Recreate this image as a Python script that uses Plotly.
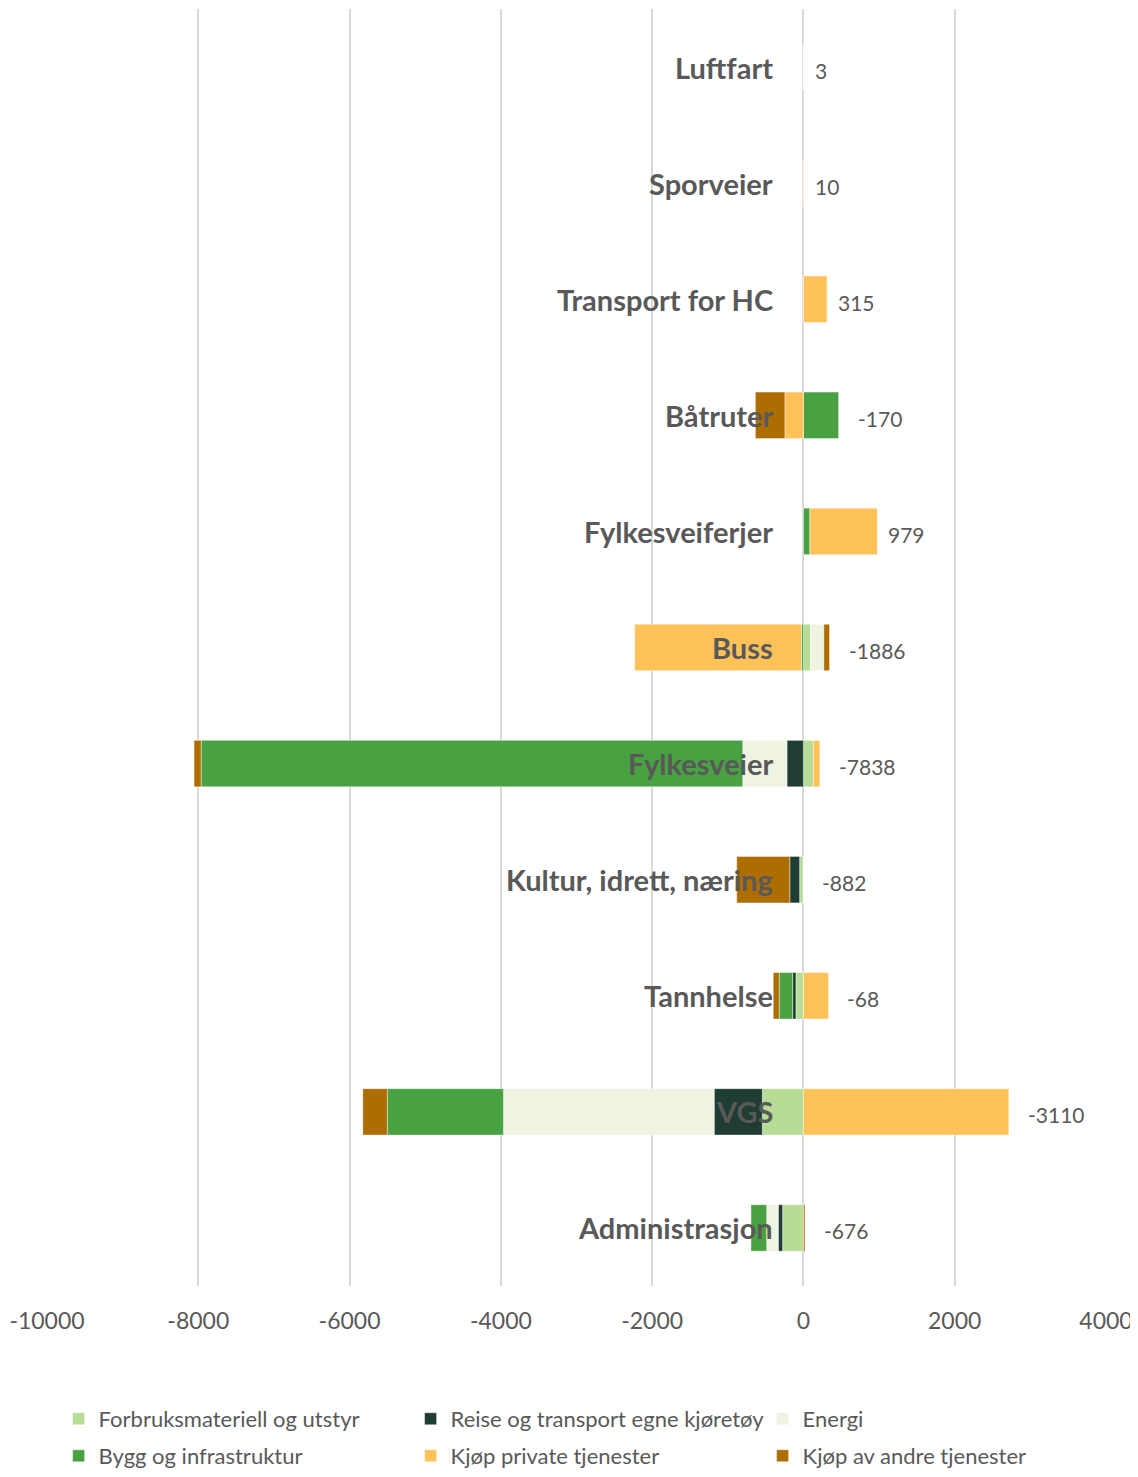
import plotly.graph_objects as go

categories = ["Administrasjon", "VGS", "Tannhelse", "Kultur, idrett, næring", "Fylkesveier",
              "Buss", "Fylkesveiferjer", "Båtruter", "Transport for HC", "Sporveier", "Luftfart"]

series_names = ["Forbruksmateriell og utstyr", "Reise og transport egne kjøretøy", "Energi",
                "Bygg og infrastruktur", "Kjøp private tjenester", "Kjøp av andre tjenester"]

forbruks = [-275, -543, -99, -50, 131, 95, 0, 0, 0, 0, 0]
reise = [-58, -637, -44, -130, -218, 0, 0, 0, 0, 0, 0]
energi = [-153, -2786, 0, 0, -584, 175, 0, 0, 0, 0, 0]
bygg = [-207, -1535, -177, 0, -7160, -25, 85, 465, 0, 0, 0]
kjop_private = [0, 2715, 331, 0, 87, -2206, 894, -245, 315, 10, 3]
kjop_andre = [20, -324, -79, -702, -94, 75, 0, -390, 0, 0, 0]

totals = [-676, -3110, -68, -882, -7838, -1886, 979, -170, 315, 10, 3]

colors = ["#B7DC95", "#1F3D33", "#EEF3E2", "#48A241", "#FFC259", "#AD6D00"]

x_ticks = [-10000, -8000, -6000, -4000, -2000, 0, 2000, 4000]

values = [forbruks, reise, energi, bygg, kjop_private, kjop_andre]

FONT = "Lato"
TEXT = "#595959"

W, H = 1130, 1461

fig = go.Figure()
legend_ids = ["legend", "legend2", "legend3", "legend4", "legend5", "legend6"]
for name, vals, col, lid in zip(series_names, values, colors, legend_ids):
    fig.add_trace(go.Bar(
        y=categories, x=vals, name=name, orientation="h",
        marker=dict(color=col, line=dict(color="rgba(255,255,255,0.7)", width=0.6)),
        legend=lid, showlegend=True, hoverinfo="x+name",
    ))

annotations = []
for cat, tot, *vals in zip(categories, totals, *values):
    pos = sum(v for v in vals if v > 0)
    annotations.append(dict(
        x=0, y=cat, xref="x", yref="y", text=f"<b>{cat}</b>", showarrow=False,
        xanchor="right", xshift=-28, font=dict(family=FONT, size=29, color=TEXT)))
    annotations.append(dict(
        x=pos, y=cat, xref="x", yref="y", text=str(tot), showarrow=False,
        xanchor="left", xshift=9 if tot >= 0 else 17, yshift=-3,
        font=dict(family=FONT, size=21, color=TEXT)))

col_x = [50.6 / W, 402.6 / W, 754.6 / W]
row_y = [1 - 1411 / H, 1 - 1448 / H]
legends = {}
for i, lid in enumerate(legend_ids):
    legends[lid] = dict(
        orientation="h", x=col_x[i % 3], y=row_y[i // 3], xref="container", yref="container",
        xanchor="left", yanchor="middle", visible=True,
        font=dict(family=FONT, size=22, color=TEXT), bgcolor="rgba(0,0,0,0)")

fig.update_layout(
    width=W, height=H, showlegend=True,
    barmode="relative", bargap=0.6,
    plot_bgcolor="white", paper_bgcolor="white",
    margin=dict(l=39, r=32, t=1, b=183),
    font=dict(family=FONT, color=TEXT, size=20),
    xaxis=dict(range=[-10000, 4000], tickvals=x_ticks, ticktext=[str(v) for v in x_ticks],
               showgrid=True, gridcolor="#D9D9D9", gridwidth=1.5,
               zeroline=True, zerolinecolor="#D9D9D9", zerolinewidth=1.5,
               ticks="outside", ticklen=14, tickcolor="rgba(0,0,0,0)",
               tickfont=dict(family=FONT, size=23, color=TEXT), showline=False),
    yaxis=dict(showticklabels=False, showgrid=False, zeroline=False, range=[-0.5, 10.5],
               categoryorder="array", categoryarray=categories),
    annotations=annotations,
    **legends,
)

fig.write_html("out.html")
